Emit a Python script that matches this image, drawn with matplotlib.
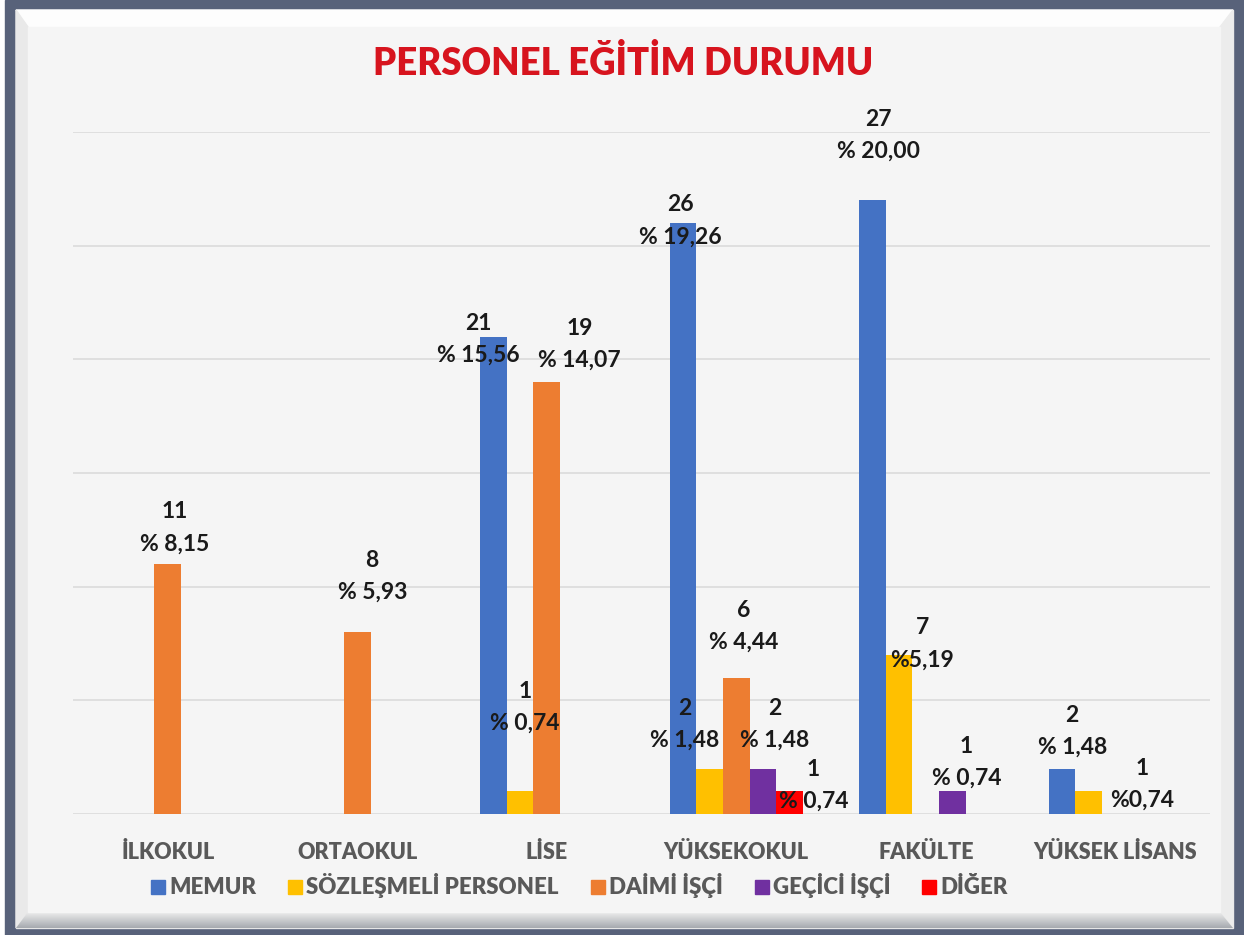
import matplotlib
matplotlib.use("Agg")
import matplotlib.pyplot as plt
import numpy as np
from matplotlib.patches import Rectangle, Polygon
from matplotlib.lines import Line2D

plt.rcParams['font.family'] = ['Lato', 'DejaVu Sans']

# ---------------- data ----------------
categories = ["İLKOKUL", "ORTAOKUL", "LİSE", "YÜKSEKOKUL", "FAKÜLTE", "YÜKSEK LİSANS"]
series_names = ["MEMUR", "SÖZLEŞMELİ PERSONEL", "DAİMİ İŞÇİ", "GEÇİCİ İŞÇİ", "DİĞER"]
memur = [0, 0, 21, 26, 27, 2]
sozlesmeli = [0, 0, 1, 2, 7, 1]
daimi = [11, 8, 19, 6, 0, 0]
gecici = [0, 0, 0, 2, 1, 0]
diger = [0, 0, 0, 1, 0, 0]
series_values = [memur, sozlesmeli, daimi, gecici, diger]

# percent label texts (as printed on the chart): (series index, category index, text)
percent_labels = [
    (2, 0, "% 8,15"), (2, 1, "% 5,93"),
    (0, 2, "% 15,56"), (1, 2, "% 0,74"), (2, 2, "% 14,07"),
    (0, 3, "% 19,26"), (1, 3, "% 1,48"), (2, 3, "% 4,44"), (3, 3, "% 1,48"), (4, 3, "% 0,74"),
    (0, 4, "% 20,00"), (1, 4, "%5,19"), (3, 4, "% 0,74"),
    (0, 5, "% 1,48"), (1, 5, "%0,74"),
]
title = "PERSONEL EĞİTİM DURUMU"

# ---------------- styles / positions ----------------
colors = ["#4472C4", "#FFC000", "#ED7D31", "#7030A0", "#FF0000"]
# label block offsets in pixels (dx right, dy up) from bar top centre
label_offsets = [
    (7, 36), (15, 56),
    (-15, -3), (5, 84), (33, 38),
    (-3, 2), (-25, 44), (7, 51), (12, 44), (24, 6),
    (6, 65), (23, 11), (14, 29),
    (10, 37), (53, 7),
]

W, H = 1244, 935
fig = plt.figure(figsize=(W / 100, H / 100), dpi=100)

# ---------------- frame ----------------
bg = fig.add_axes([0, 0, 1, 1], zorder=-10)
bg.set_xlim(0, W)
bg.set_ylim(H, 0)
bg.axis("off")
bg.add_patch(Rectangle((0, 0), W, H, color="white"))
bg.add_patch(Rectangle((5, 0), W - 5, H, color="#58627a"))
bg.add_patch(Rectangle((16, 10), 1233 - 16, 928 - 10, color="#e6e6e6"))
bg.add_patch(Polygon([(16, 10), (1233, 10), (1220, 27), (28, 27)], closed=True, color="#fdfdfd"))
bg.add_patch(Polygon([(16, 10), (28, 27), (28, 912), (16, 928)], closed=True, color="#e9e9e9"))
bg.add_patch(Polygon([(1233, 10), (1220, 27), (1220, 912), (1233, 928)], closed=True, color="#ececec"))
bot = Polygon([(16, 928), (28, 912), (1220, 912), (1233, 928)], closed=True, facecolor="none", edgecolor="none")
bg.add_patch(bot)
grad = np.linspace(0, 1, 64).reshape(-1, 1)
im = bg.imshow(grad, extent=(16, 1233, 928, 912),
               cmap=matplotlib.colors.LinearSegmentedColormap.from_list("g", ["#ededed", "#a6aaaf"]),
               aspect="auto", origin="upper", zorder=2)
im.set_clip_path(bot)
bg.add_patch(Rectangle((28, 27), 1220 - 28, 912 - 27, color="#f5f5f5", zorder=3))

# ---------------- main axes ----------------
left, right, base, top = 73, 1210, 814, 132
ax = fig.add_axes([left / W, (H - base) / H, (right - left) / W, (base - top) / H])
ax.set_facecolor("none")
ax.set_xlim(0, len(categories))
ax.set_ylim(0, 30)
ax.set_yticks(np.arange(0, 31, 5))
ax.yaxis.grid(True, color="#d9d9d9", lw=1.1)
ax.set_axisbelow(True)
ax.tick_params(axis="y", length=0, labelleft=False)
for s in ax.spines.values():
    s.set_visible(False)

x = np.arange(len(categories)) + 0.5
bw = 0.14
nser = len(series_values)
for i, vals in enumerate(series_values):
    xs = x + (i - (nser - 1) / 2) * bw
    v = np.array(vals, dtype=float)
    m = v > 0
    ax.bar(xs[m], v[m], width=bw, color=colors[i], zorder=3)

ax.set_xticks(x)
ax.set_xticklabels(categories)
for t in ax.get_xticklabels():
    t.set_fontsize(15.5)
    t.set_fontweight("heavy")
    t.set_color("#595959")
ax.tick_params(axis="x", length=0, pad=20)

for (si, ci, ptxt), (dx, dy) in zip(percent_labels, label_offsets):
    xs = x[ci] + (si - (nser - 1) / 2) * bw
    val = series_values[si][ci]
    ax.annotate(str(val), xy=(xs, val), xytext=(dx, dy + 16), textcoords="offset pixels",
                ha="center", va="center", fontsize=16.5, fontweight="bold", color="#1a1a1a", zorder=5,
                annotation_clip=False)
    ax.annotate(ptxt, xy=(xs, val), xytext=(dx, dy - 16), textcoords="offset pixels",
                ha="center", va="center", fontsize=16.5, fontweight="bold", color="#1a1a1a", zorder=5,
                annotation_clip=False)

fig.text(623 / W, (H - 63) / H, title, ha="center", va="center", fontsize=26.3,
         fontweight="heavy", color="#d7141e")

handles = [Line2D([], [], marker="s", linestyle="none", markersize=10.5, color=c) for c in colors]
fig.legend(handles, series_names, loc="center", bbox_to_anchor=(579 / W, (H - 886) / H), ncol=5,
           frameon=False, handletextpad=0.15, columnspacing=1.4, handlelength=0.7,
           prop={"size": 16, "weight": "heavy"}, labelcolor="#595959")

fig.savefig("out.png", dpi=100)
